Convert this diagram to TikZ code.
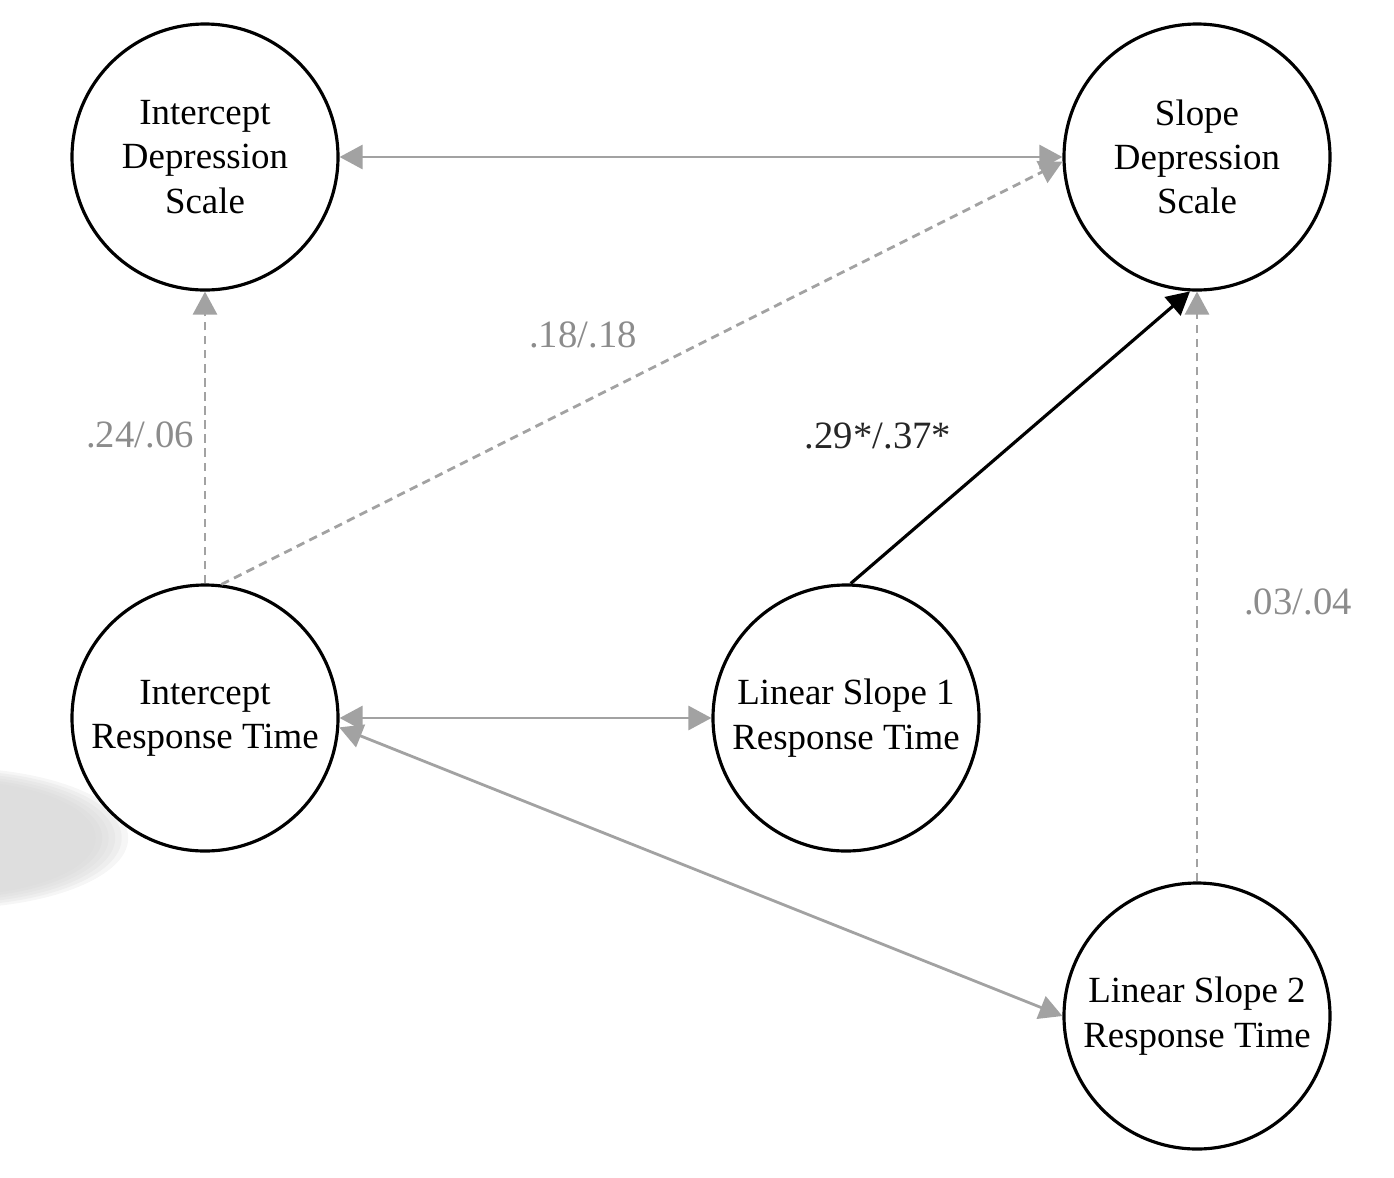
\documentclass[tikz,border=0pt]{standalone}
\usepackage{fontspec}
\setmainfont{Liberation Serif}
\usepackage{tikz}
\usetikzlibrary{arrows.meta,positioning}
\definecolor{arrowgrey}{HTML}{A2A2A2}
\definecolor{labelgrey}{HTML}{8C8C8C}
\definecolor{blobgrey}{HTML}{D4D4D4}

\begin{document}
\begin{tikzpicture}[
  latent/.style={circle,draw=black,line width=0.9pt,fill=white,
                 minimum size=2.66cm,inner sep=0pt,align=center,
                 font=\fontsize{10.5pt}{12.6pt}\selectfont},
  cov/.style={{Triangle[length=2.3mm,width=2.4mm]}-{Triangle[length=2.3mm,width=2.4mm]},
              arrowgrey,line width=0.8pt},
  nspath/.style={-{Triangle[length=2.3mm,width=2.4mm]},arrowgrey,line width=0.8pt,
                 dash pattern=on 2.4pt off 1.6pt},
  sigpath/.style={-{Triangle[length=2.3mm,width=2.4mm]},black,line width=0.9pt},
  coef/.style={text=labelgrey,font=\fontsize{11pt}{13pt}\selectfont},
]
\useasboundingbox (0,0) rectangle (13.94,-11.77);
\clip (0,0) rectangle (13.94,-11.77);

% soft grey blob at the left edge, layered for a blurred rim
\foreach \s in {1.10,1.06,1.02,0.98,0.94,0.90}
  \fill[blobgrey,opacity=0.22] (-0.5,-8.38) ellipse [x radius=1.62*\s cm,y radius=0.64*\s cm];

\node[latent] (ids) at (2.05,-1.57)  {Intercept\\Depression\\Scale};
\node[latent] (sds) at (11.97,-1.57) {Slope\\Depression\\Scale};
\node[latent] (irt) at (2.05,-7.18)  {Intercept\\Response Time};
\node[latent] (ls1) at (8.46,-7.18)  {Linear Slope 1\\Response Time};
\node[latent] (ls2) at (11.97,-10.16) {Linear Slope 2\\Response Time};

% covariances
\draw[cov] (ids) -- (sds);
\draw[cov] (irt) -- (ls1);
\draw[cov] (irt.-4) -- (ls2.west);

% regression paths, dashed = not significant
\draw[nspath] (irt) -- (ids);
\draw[nspath] (irt.83) -- (sds.182);
\draw[nspath] (ls2) -- (sds);
\draw[sigpath] (ls1.88) -- (sds.-93);

\node[coef] (c1) at (1.40,-4.35) {.24/.06};
\node[coef] (c2) at (5.83,-3.35) {.18/.18};
\node[coef,text=black!85] (c3) at (8.78,-4.36) {.29*/.37*};
\node[coef] (c4) at (12.98,-6.02) {.03/.04};
\end{tikzpicture}
\end{document}
